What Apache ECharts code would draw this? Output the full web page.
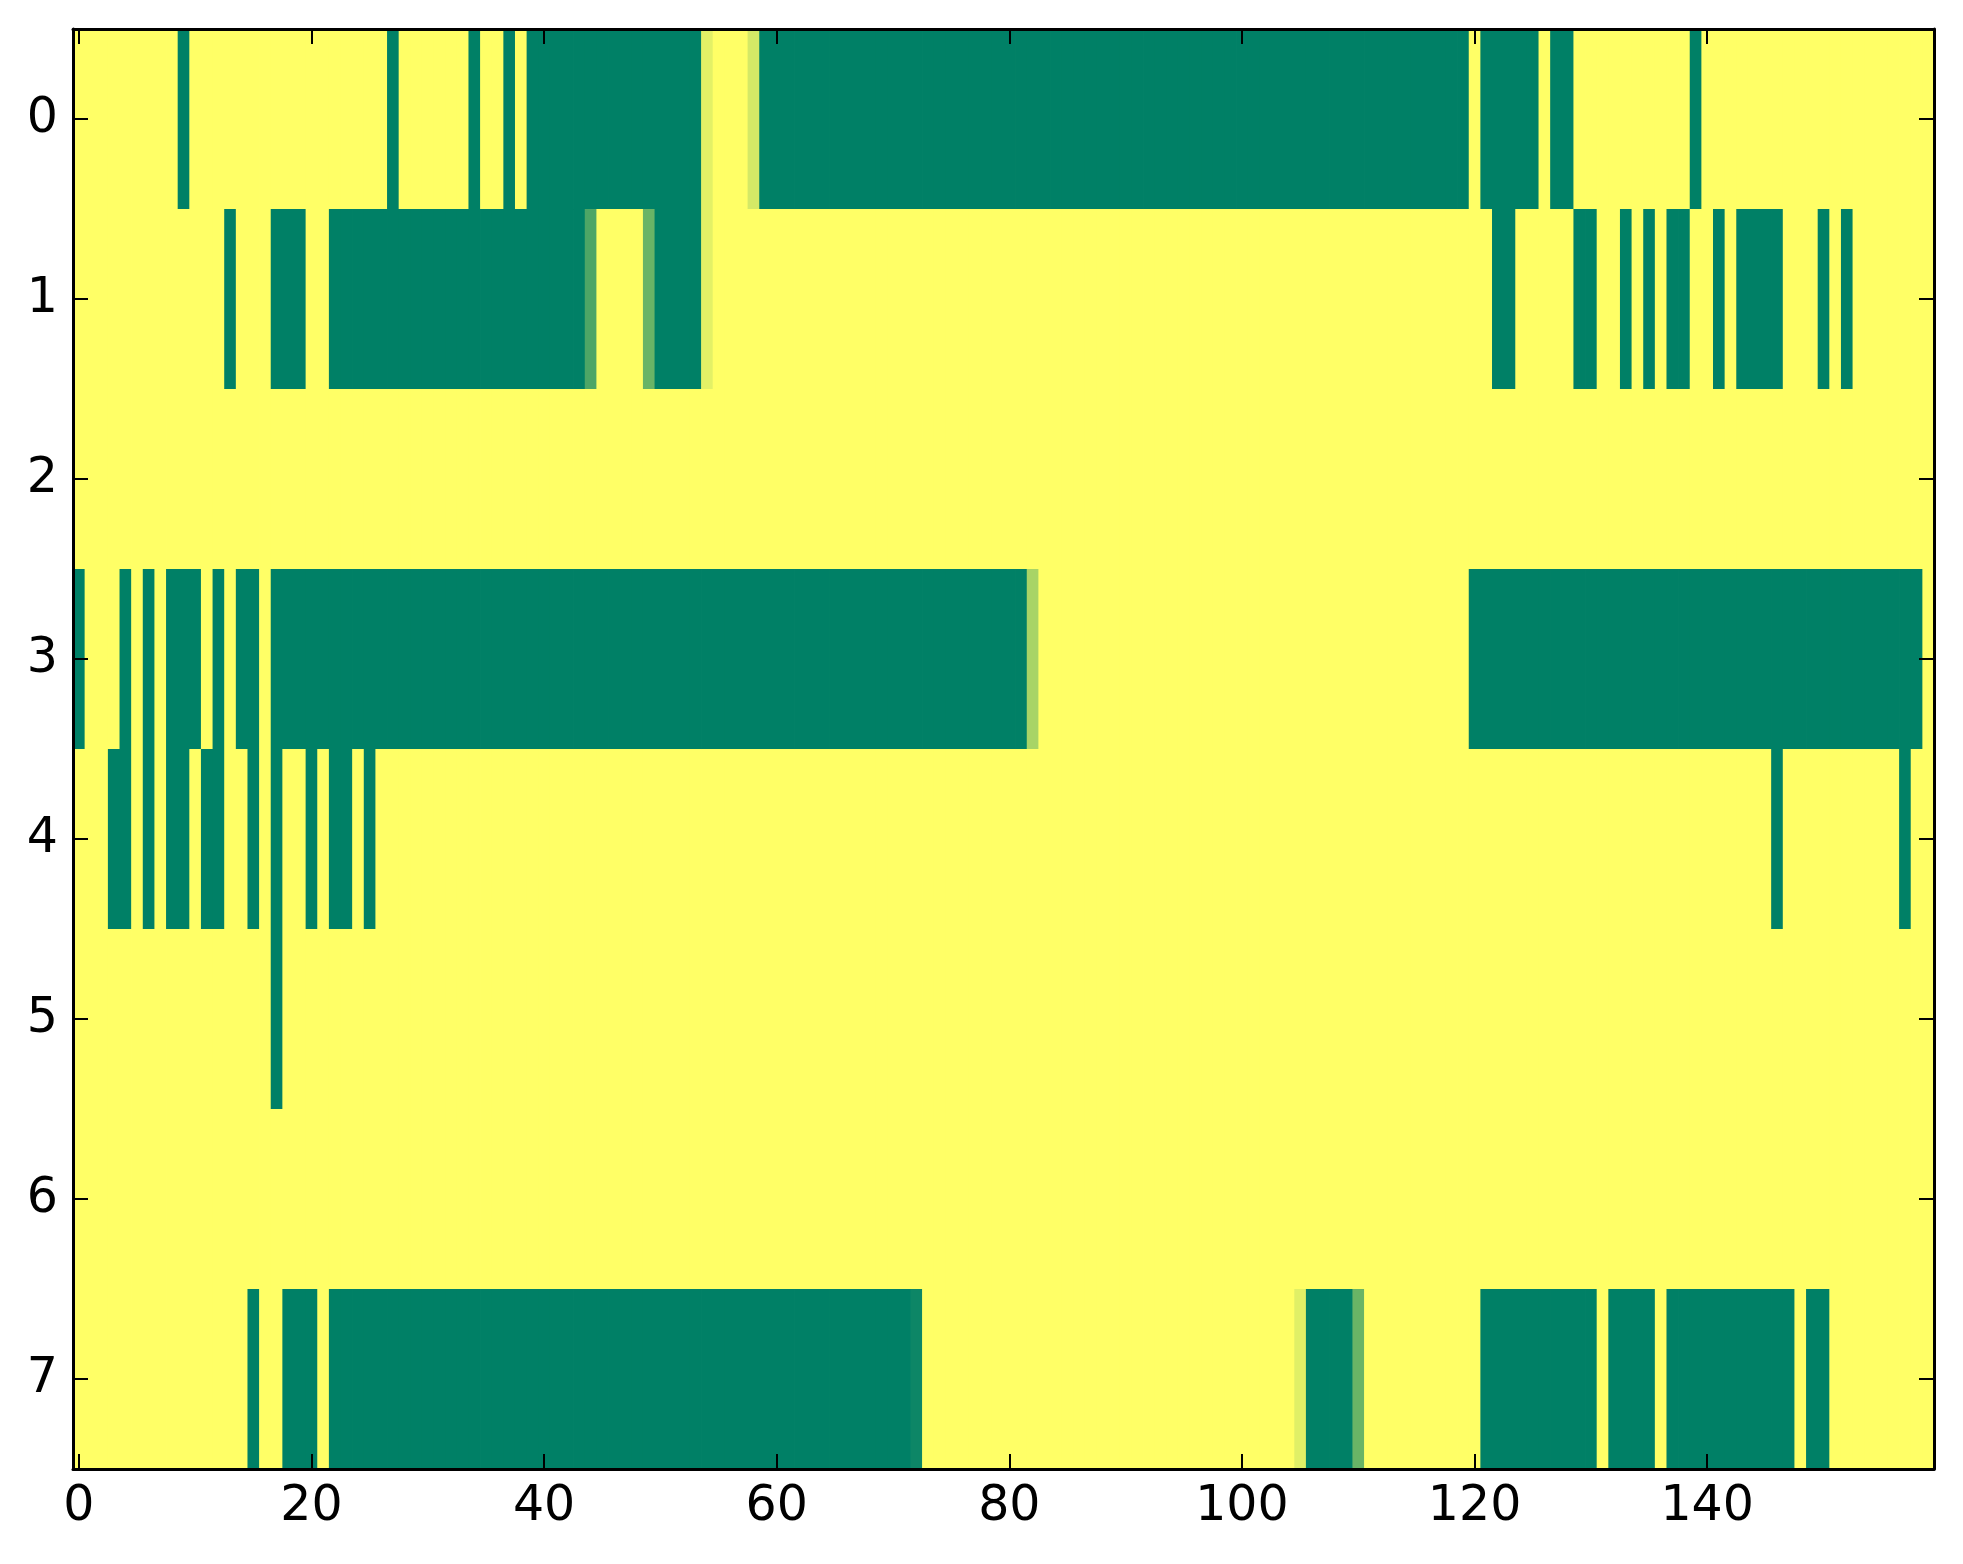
<!DOCTYPE html>
<html>
<head>
<meta charset="utf-8">
<script src="https://cdn.jsdelivr.net/npm/echarts@6/dist/echarts.min.js"></script>
<style>
  html, body { margin: 0; padding: 0; background: #ffffff; }
  #chart { width: 1963px; height: 1564px; }
</style>
</head>
<body>
<div id="chart"></div>
<script>
// Number of columns (x) and row labels (y)
const nCols = 160;
const rowLabels = ['0', '1', '2', '3', '4', '5', '6', '7'];
const xTickStep = 20;

// Each row as runs: [firstColumn, lastColumn, value]  (0 = green, 1 = yellow)
const row0 = [[0,8,1],[9,9,0],[10,26,1],[27,27,0],[28,33,1],[34,34,0],[35,36,1],[37,37,0],[38,38,1],
  [39,53,0],[54,54,0.89],[55,57,1],[58,58,0.83],[59,119,0],[120,120,1],[121,125,0],[126,126,1],
  [127,128,0],[129,138,1],[139,139,0],[140,159,1]];
const row1 = [[0,12,1],[13,13,0],[14,16,1],[17,19,0],[20,21,1],[22,43,0],[44,44,0.3],[45,48,1],
  [49,49,0.41],[50,53,0],[54,54,0.89],[55,121,1],[122,123,0],[124,128,1],[129,130,0],[131,132,1],
  [133,133,0],[134,134,1],[135,135,0],[136,136,1],[137,138,0],[139,140,1],[141,141,0],[142,142,1],
  [143,146,0],[147,149,1],[150,150,0],[151,151,1],[152,152,0],[153,159,1]];
const row2 = [[0,159,1]];
const row3 = [[0,0,0],[1,3,1],[4,4,0],[5,5,1],[6,6,0],[7,7,1],[8,10,0],[11,11,1],[12,12,0],[13,13,1],
  [14,15,0],[16,16,1],[17,81,0],[82,82,0.66],[83,119,1],[120,158,0],[159,159,1]];
const row4 = [[0,2,1],[3,4,0],[5,5,1],[6,6,0],[7,7,1],[8,9,0],[10,10,1],[11,12,0],[13,14,1],[15,15,0],
  [16,16,1],[17,17,0],[18,19,1],[20,20,0],[21,21,1],[22,23,0],[24,24,1],[25,25,0],[26,145,1],
  [146,146,0],[147,156,1],[157,157,0],[158,159,1]];
const row5 = [[0,16,1],[17,17,0],[18,159,1]];
const row6 = [[0,159,1]];
const row7 = [[0,14,1],[15,15,0],[16,17,1],[18,20,0],[21,21,1],[22,71,0],[72,72,0.05],[73,104,1],
  [105,105,0.88],[106,109,0],[110,110,0.41],[111,120,1],[121,130,0],[131,131,1],[132,135,0],
  [136,136,1],[137,147,0],[148,148,1],[149,150,0],[151,159,1]];
const rows = [row0, row1, row2, row3, row4, row5, row6, row7];

// Build the cells from the runs
const xCategories = [];
for (let i = 0; i < nCols; i++) xCategories.push(String(i));
const cells = [];
rows.forEach((runs, r) => {
  runs.forEach(([a, b, v]) => {
    for (let c = a; c <= b; c++) cells.push([c, r, v]);
  });
});

const FONT = 'DejaVu Sans';
const tickStyle = { show: true, inside: true, length: 15, lineStyle: { color: '#000', width: 2 } };
const lineStyle = { show: true, onZero: false, lineStyle: { color: '#000', width: 3 } };
const xTickInterval = (idx) => idx % xTickStep === 0;

function renderCell(params, api) {
  const p = api.coord([api.value(0), api.value(1)]);
  const s = api.size([1, 1]);
  return {
    type: 'rect',
    shape: { x: p[0] - s[0] / 2, y: p[1] - s[1] / 2, width: s[0] + 0.8, height: s[1] + 0.8 },
    style: { fill: api.visual('color'), stroke: null },
    silent: true
  };
}

const chart = echarts.init(document.getElementById('chart'), null, { renderer: 'canvas' });
chart.setOption({
  animation: false,
  backgroundColor: '#ffffff',
  grid: { left: 73, top: 29, right: 29, bottom: 95, containLabel: false },
  xAxis: [
    {
      type: 'category', data: xCategories, position: 'bottom', z: 10,
      axisLine: lineStyle,
      axisTick: Object.assign({}, tickStyle, { alignWithLabel: true, interval: xTickInterval }),
      axisLabel: { interval: xTickInterval, color: '#000', fontFamily: FONT, fontSize: 49, margin: 14 },
      splitLine: { show: false }
    },
    {
      type: 'category', data: xCategories, position: 'top', z: 10,
      axisLine: lineStyle,
      axisTick: Object.assign({}, tickStyle, { alignWithLabel: true, interval: xTickInterval }),
      axisLabel: { show: false },
      splitLine: { show: false }
    }
  ],
  yAxis: [
    {
      type: 'category', data: rowLabels, inverse: true, position: 'left', z: 10,
      axisLine: lineStyle,
      axisTick: Object.assign({}, tickStyle, { alignWithLabel: true }),
      axisLabel: { color: '#000', fontFamily: FONT, fontSize: 49, margin: 15 },
      splitLine: { show: false }
    },
    {
      type: 'category', data: rowLabels, inverse: true, position: 'right', z: 10,
      axisLine: lineStyle,
      axisTick: Object.assign({}, tickStyle, { alignWithLabel: true }),
      axisLabel: { show: false },
      splitLine: { show: false }
    }
  ],
  visualMap: {
    show: false, type: 'continuous', min: 0, max: 1, dimension: 2, seriesIndex: 0,
    inRange: { color: ['#008066', '#ffff66'] }
  },
  series: [{
    type: 'custom', xAxisIndex: 0, yAxisIndex: 0,
    data: cells,
    renderItem: renderCell,
    clip: true,
    encode: { x: 0, y: 1 }
  }]
});
</script>
</body>
</html>
